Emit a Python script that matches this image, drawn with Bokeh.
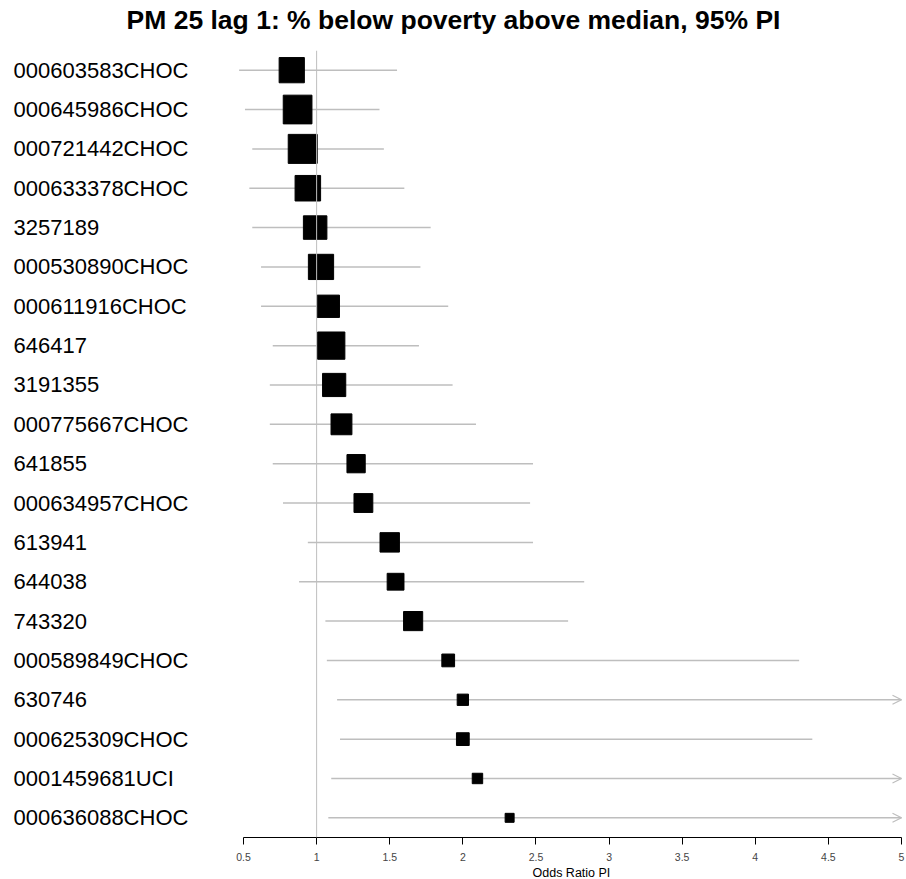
from bokeh.plotting import figure
from bokeh.models import (Range1d, LinearAxis, FixedTicker, Span, Arrow, OpenHead,
                          ColumnDataSource, Title)
from bokeh.core.properties import value
from bokeh.embed import file_html
from bokeh.resources import INLINE

# Site-level estimates, PM 2.5 lag 1, % below poverty above median
sites = [
    "000603583CHOC", "000645986CHOC", "000721442CHOC", "000633378CHOC", "3257189",
    "000530890CHOC", "000611916CHOC", "646417", "3191355", "000775667CHOC",
    "641855", "000634957CHOC", "613941", "644038", "743320",
    "000589849CHOC", "630746", "000625309CHOC", "0001459681UCI", "000636088CHOC",
]
odds_ratio = [0.83, 0.87, 0.905, 0.94, 0.99, 1.03, 1.08, 1.10, 1.12, 1.17,
              1.27, 1.32, 1.50, 1.54, 1.66, 1.90, 2.00, 2.00, 2.10, 2.32]
pi_lower = [0.47, 0.51, 0.56, 0.54, 0.56, 0.62, 0.62, 0.70, 0.68, 0.68,
            0.70, 0.77, 0.94, 0.88, 1.06, 1.07, 1.14, 1.16, 1.10, 1.08]
pi_upper = [1.55, 1.43, 1.46, 1.60, 1.78, 1.71, 1.90, 1.70, 1.93, 2.09,
            2.48, 2.46, 2.48, 2.83, 2.72, 4.30, 5.60, 4.39, 5.90, 6.30]
# relative precision of each estimate (largest = 1)
weights = [0.87, 0.99, 1.00, 0.88, 0.81, 0.87, 0.77, 0.94, 0.80, 0.72,
           0.63, 0.65, 0.67, 0.58, 0.66, 0.44, 0.39, 0.44, 0.36, 0.31]

tick_values = [0.5, 1, 1.5, 2, 2.5, 3, 3.5, 4, 4.5, 5]
tick_labels = ["0.5", "1", "1.5", "2", "2.5", "3", "3.5", "4", "4.5", "5"]
x_min, x_max = 0.5, 5.0
null_value = 1.0

title_text = "PM 25 lag 1: % below poverty above median, 95% PI"
x_title = "Odds Ratio PI"

W, H = 906, 879
BORDER_TOP, BORDER_BOTTOM = 50, 41
axis_left_px, axis_right_px = 243, 901
px_per_unit = (axis_right_px - axis_left_px) / (x_max - x_min)
x_lo = x_min - axis_left_px / px_per_unit
x_hi = x_max + (W - axis_right_px) / px_per_unit

n = len(sites)
y_top, y_bottom = -0.5, n - 0.5

FONT = "Liberation Sans"
GREY = "#BEBEBE"
MAX_BOX = 29

rows = list(range(n))
shown_upper = [min(u, x_max) for u in pi_upper]
src = ColumnDataSource(dict(
    site=sites, y=rows, est=odds_ratio, lo=pi_lower, hi=shown_upper,
    size=[w * MAX_BOX for w in weights],
    label_x=[x_lo + 13 / px_per_unit] * n,
))

p = figure(width=W, height=H, x_range=Range1d(x_lo, x_hi),
           y_range=Range1d(y_bottom, y_top),
           x_axis_type=None, y_axis_type=None,
           output_backend="svg", toolbar_location=None,
           min_border_left=0, min_border_right=0,
           min_border_top=BORDER_TOP, min_border_bottom=BORDER_BOTTOM)
p.outline_line_color = None
p.grid.visible = False
p.background_fill_color = "white"
p.border_fill_color = "white"

# spacer between the chart title and the plotting area
p.add_layout(Title(text=" ", text_font_size="10px", standoff=2), "above")
p.add_layout(Title(text=title_text, align="center", text_font=FONT,
                   text_font_size="26.5px", text_font_style="bold",
                   text_color="black", standoff=2), "above")

xaxis = LinearAxis(ticker=FixedTicker(ticks=tick_values), bounds=(x_min, x_max))
xaxis.major_label_overrides = {
    (int(t) if float(t).is_integer() else t): lab for t, lab in zip(tick_values, tick_labels)
}
xaxis.major_label_text_font = FONT
xaxis.major_label_text_font_size = "10.5px"
xaxis.major_label_standoff = 8
xaxis.major_tick_in = 0
xaxis.major_tick_out = 7
xaxis.minor_tick_out = 0
xaxis.minor_tick_in = 0
xaxis.axis_line_color = "black"
xaxis.major_tick_line_color = "black"
p.add_layout(xaxis, "below")

# axis title, centred under the tick span
p.add_layout(Title(text=x_title, align="left", offset=532, text_font=FONT,
                   text_font_size="12.5px", text_font_style="normal",
                   text_color="black", standoff=0), "below")

# line of no effect
p.add_layout(Span(location=null_value, dimension="height",
                  line_color=GREY, line_width=1))

# prediction intervals
p.segment(x0="lo", x1="hi", y0="y", y1="y", source=src,
          line_color=GREY, line_width=1.5)

# intervals running past the axis get an open arrow head
for lo, hi, y in zip(pi_lower, pi_upper, rows):
    if hi > x_max:
        p.add_layout(Arrow(x_start=lo, y_start=y, x_end=x_max, y_end=y,
                           line_color=GREY, line_width=1.5, line_alpha=0,
                           end=OpenHead(size=9, line_color=GREY, line_width=1.2)))

# point estimates, boxes scaled by precision
p.scatter(x="est", y="y", size="size", marker="square", source=src,
          fill_color="black", line_color="black")

# site labels
p.text(x="label_x", y="y", text="site", source=src,
       text_font=value(FONT), text_font_size="22px",
       text_align="left", text_baseline="middle", text_color="black")

open("out.html", "w").write(file_html(p, INLINE))
